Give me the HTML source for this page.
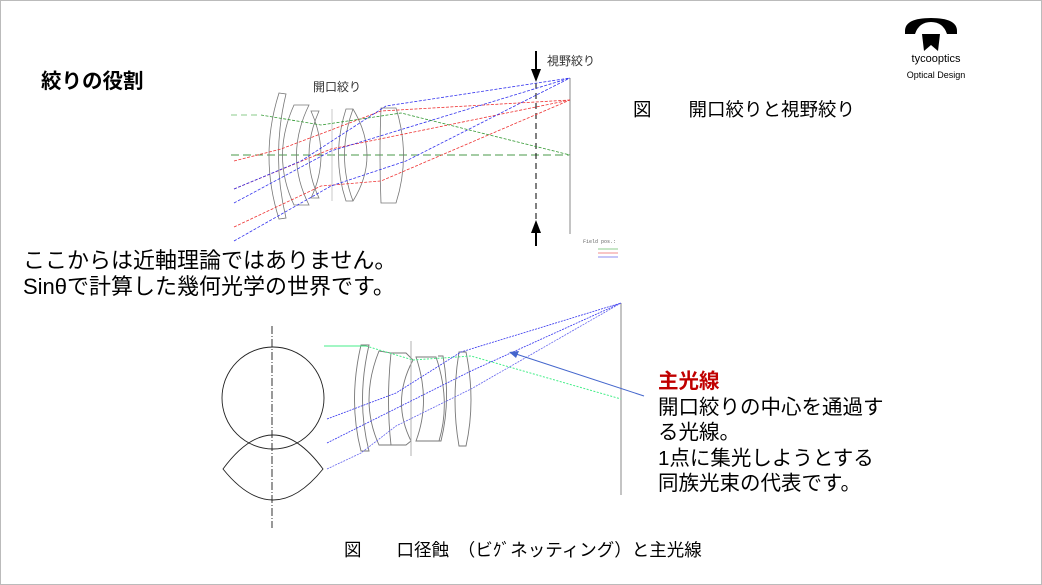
<!DOCTYPE html>
<html><head><meta charset="utf-8"><style>
html,body{margin:0;padding:0;background:#fff;}
#c{position:relative;width:1042px;height:585px;overflow:hidden;font-family:"Liberation Sans","Noto Sans CJK JP",sans-serif;box-sizing:border-box;border:1px solid #bbb;}
.t{position:absolute;white-space:nowrap;color:#000;}
</style></head><body><div id="c">
<div class="t" style="left:40px;top:63px;font-size:20.5px;font-weight:bold;">絞りの役割</div>
<div class="t" style="left:312px;top:77px;font-size:12px;color:#333;">開口絞り</div>
<div class="t" style="left:546px;top:51px;font-size:12px;color:#333;">視野絞り</div>
<div class="t" style="left:632px;top:95px;font-size:18.5px;">図　　開口絞りと視野絞り</div>
<div class="t" style="left:22px;top:247px;font-size:22px;line-height:26px;">ここからは近軸理論ではありません。<br>Sinθで計算した幾何光学の世界です。</div>
<div class="t" style="left:657px;top:368px;font-size:20.5px;line-height:25.5px;"><span style="color:#c00000;font-weight:bold;">主光線</span><br>開口絞りの中心を通過す<br>る光線。<br>1点に集光しようとする<br>同族光束の代表です。</div>
<div class="t" style="left:343px;top:536px;font-size:17.5px;">図　　口径蝕　（ビｸﾞネッティング）と主光線</div>
<div class="t" style="left:896px;top:52px;font-size:11px;width:78px;text-align:center;">tycooptics</div>
<div class="t" style="left:896px;top:69px;font-size:9px;width:78px;text-align:center;">Optical Design</div>
<svg width="1042" height="585" style="position:absolute;left:0;top:0" fill="none">
<path d="M904 30 Q904 17 930 17 Q956 17 956 30 L956 33 L946 33 Q942 21 930 21 Q918 21 914 33 L904 33Z" fill="#000"/>
<path d="M921 33 L939 33 L937 50 L930 44 L923 50Z" fill="#000"/>
<line x1="230" y1="154" x2="568" y2="154" stroke="#4a9a4a" stroke-dasharray="8,4"/>
<line x1="230" y1="114" x2="260" y2="114" stroke="#6b6" stroke-dasharray="6,4" stroke-width=".8"/>
<line x1="569" y1="77" x2="569" y2="233" stroke="#888"/>
<line x1="535" y1="62" x2="535" y2="245" stroke="#000" stroke-dasharray="6,4"/>
<line x1="535" y1="50" x2="535" y2="70" stroke="#000" stroke-width="2"/><path d="M530 68 L540 68 L535 81Z" fill="#000"/>
<line x1="535" y1="230" x2="535" y2="245" stroke="#000" stroke-width="2"/><path d="M530 232 L540 232 L535 219Z" fill="#000"/>
<g stroke="#777" stroke-width=".8">
<path d="M278 92 L285 93 Q270 155 285 217 L278 218 Q258 155 278 92Z"/>
<path d="M293 104 L308 104 Q283 155 308 204 L293 204 Q270 155 293 104Z"/>
<path d="M310 110 L318 110 Q298 155 318 197 L310 197 Q330 155 310 110Z"/>
<line x1="331" y1="108" x2="331" y2="200" stroke="#bbb"/>
<path d="M345 108 L352 108 Q380 155 352 200 L345 200 Q330 155 345 108Z"/>
<path d="M352 108 Q335 155 352 200" />
<path d="M380 107 L395 107 Q410 155 395 202 L380 202 Q378 155 380 107Z"/>
</g>
<g stroke-width=".8" stroke-dasharray="3,1.5">
<path d="M233 160 L280 148 L380 110 L569 99" stroke="#e33"/>
<path d="M233 188 L330 148 L569 99" stroke="#e33"/>
<path d="M233 226 L320 185 L380 180 L569 99" stroke="#e33"/>
<path d="M233 188 L300 160 L385 105 L569 77" stroke="#33e"/>
<path d="M233 202 L330 150 L569 77" stroke="#33e"/>
<path d="M233 240 L330 185 L405 160 L569 77" stroke="#33e"/>
<path d="M260 114 L320 124 L400 112 L569 154" stroke="#393"/>
</g>
<g stroke-width=".8"><line x1="597" y1="248" x2="617" y2="248" stroke="#6b6"/><line x1="597" y1="252" x2="617" y2="252" stroke="#e66"/><line x1="597" y1="256" x2="617" y2="256" stroke="#66e"/></g>
<text x="582" y="242" font-size="5" fill="#666" font-family="Liberation Mono" stroke="none">Field pos.:</text>
<line x1="271" y1="325" x2="271" y2="527" stroke="#000" stroke-dasharray="8,2,1,2" stroke-width=".8"/>
<circle cx="272" cy="397" r="51" stroke="#222" stroke-width=".9"/>
<path d="M222 468 Q272 400 322 468 Q272 530 222 468Z" stroke="#222" stroke-width=".9"/>
<line x1="620" y1="302" x2="620" y2="494" stroke="#888"/>
<g stroke="#777" stroke-width=".9">
<path d="M360 344 L368 344 Q355 400 368 450 L360 450 Q347 400 360 344Z"/>
<path d="M378 350 L390 352 Q385 400 390 444 L378 444 Q358 400 378 350Z"/>
<path d="M390 352 L405 352 L412 359 Q390 400 410 440 L405 444 L390 444"/>
<path d="M415 356 L435 356 Q450 400 438 440 L415 440 Q430 400 415 356Z"/>
<path d="M437 355 L442 355 Q450 400 440 440 L437 440"/>
<path d="M458 351 L465 351 Q475 400 465 445 L458 445 Q450 400 458 351Z"/>
<line x1="410" y1="340" x2="410" y2="455" stroke="#aaa"/>
</g>
<line x1="323" y1="345" x2="365" y2="345" stroke="#4e8"/>
<path d="M365 345 L412 359 L470 355 L620 398" stroke="#4e8" stroke-dasharray="2,1.5"/>
<g stroke="#33e" stroke-width=".8" stroke-dasharray="2,1">
<path d="M326 418 L395 392 L460 351 L620 302"/>
<path d="M326 442 L400 405 L470 370 L620 302"/>
<path d="M326 468 L360 452 L395 425 L470 388 L620 302" stroke="#66e"/>
</g>
<line x1="643" y1="395" x2="515" y2="353" stroke="#4466cc"/>
<path d="M508 351 L518 350 L515 357Z" fill="#4466cc"/>
</svg>
</div></body></html>
